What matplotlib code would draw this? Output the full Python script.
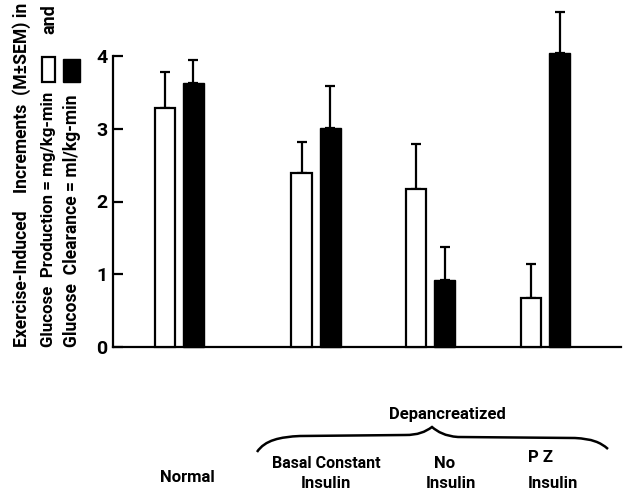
import matplotlib
matplotlib.use("Agg")
import matplotlib.pyplot as plt
import numpy as np
from matplotlib.patches import Rectangle, PathPatch
from matplotlib.path import Path

# ---- data ----
groups = ["Normal", "Basal Constant\nInsulin", "No\nInsulin", "PZ\nInsulin"]
production = [3.29, 2.39, 2.17, 0.68]
production_sem = [0.49, 0.43, 0.62, 0.46]
clearance = [3.63, 3.01, 0.92, 4.04]
clearance_sem = [0.32, 0.58, 0.45, 0.57]
yticks = [0, 1, 2, 3, 4]

# ---- layout ----
W, H = 625, 491
FONT = "Roboto"
plt.rcParams["font.family"] = [FONT, "DejaVu Sans"]
plt.rcParams["font.weight"] = "bold"

fig = plt.figure(figsize=(W / 100, H / 100), dpi=100)
L, R, B, T = 113, 621, 347, 56  # pixel box (y from top)
ax = fig.add_axes([L / W, 1 - B / H, (R - L) / W, (B - T) / H])

centers = np.array([0.652, 1.998, 3.123, 4.255])
bw = 0.205
off = 0.14
ax.set_xlim(0, 5.0)
ax.set_ylim(0, 4)

ax.bar(centers - off, production, width=bw, color="white", edgecolor="black",
       linewidth=1.6, clip_on=False, zorder=3)
ax.bar(centers + off, clearance, width=bw, color="black", edgecolor="black",
       linewidth=1.0, clip_on=False, zorder=3)
for xs, vals, errs in [(centers - off, production, production_sem),
                       (centers + off, clearance, clearance_sem)]:
    eb = ax.errorbar(xs, vals, yerr=[np.zeros(len(vals)), errs], fmt="none",
                     ecolor="black", elinewidth=1.6, capsize=3.6, capthick=1.6,
                     zorder=2)
    for a in list(eb[1]) + list(eb[2]):
        a.set_clip_on(False)

for s in ["top", "right"]:
    ax.spines[s].set_visible(False)
for s in ["left", "bottom"]:
    ax.spines[s].set_linewidth(1.6)
ax.set_xticks([])
ax.set_yticks(yticks)
ax.set_yticklabels([str(t) for t in yticks])
ax.tick_params(axis="y", direction="in", length=7, width=1.6, pad=4,
               labelsize=14)
for lab in ax.get_yticklabels():
    lab.set_fontweight("bold")

def fx(x):
    return x / W

def fy(y):
    return 1 - y / H

# y label (three rotated lines)
renderer = fig.canvas.get_renderer()

def fit_text(x, ybot, s, target, fs0=11):
    t = fig.text(fx(x), fy(ybot), s, rotation=90, ha="center", va="bottom",
                 fontsize=fs0, fontweight="bold")
    ext = t.get_window_extent(renderer)
    t.set_fontsize(fs0 * target / ext.height)
    return t

fit_text(22, 347, "Exercise-Induced    Increments  (M\u00b1SEM) in", 345)
fit_text(49, 347, "Glucose  Production = mg/kg-min", 255)
fit_text(72, 347, "Glucose  Clearance = ml/kg-min", 253)
fig.text(fx(49), fy(34), "and", rotation=90, ha="center", va="bottom",
         fontsize=13, fontweight="bold")
fig.patches.append(Rectangle((fx(42), fy(82)), (55 - 42) / W, (82 - 57) / H,
                             transform=fig.transFigure, facecolor="white",
                             edgecolor="black", linewidth=1.6))
fig.patches.append(Rectangle((fx(63), fy(82)), (80 - 63) / W, (82 - 59) / H,
                             transform=fig.transFigure, facecolor="black",
                             edgecolor="black", linewidth=1.0))

# group labels
lab_fs = 12
kw = dict(ha="center", va="center", fontsize=lab_fs, fontweight="bold")
fig.text(fx(187), fy(477), "Normal", **kw)
fig.text(fx(326), fy(464), "Basal Constant", fontsize=11.5, ha="center",
         va="center", fontweight="bold")
fig.text(fx(326), fy(483), "Insulin", **kw)
fig.text(fx(445), fy(463), "No", **kw)
fig.text(fx(451), fy(483), "Insulin", **kw)
fig.text(fx(541), fy(458), "P Z", **kw)
fig.text(fx(553), fy(483), "Insulin", **kw)
fig.text(fx(447), fy(414), "Depancreatized", **kw)

# brace
pts = [(257, 452), (265, 440), (280, 437), (300, 436),
       (405, 435),
       (418, 435), (425, 432), (432, 427),
       (438, 432), (445, 436), (458, 437),
       (575, 438),
       (592, 439), (600, 442), (608, 449)]
codes = [Path.MOVETO, Path.CURVE4, Path.CURVE4, Path.CURVE4,
         Path.LINETO,
         Path.CURVE4, Path.CURVE4, Path.CURVE4,
         Path.CURVE4, Path.CURVE4, Path.CURVE4,
         Path.LINETO,
         Path.CURVE4, Path.CURVE4, Path.CURVE4]
path = Path([(fx(x), fy(y)) for x, y in pts], codes)
fig.patches.append(PathPatch(path, transform=fig.transFigure, facecolor="none",
                             edgecolor="black", linewidth=1.8))

fig.savefig("out.png", dpi=100)
